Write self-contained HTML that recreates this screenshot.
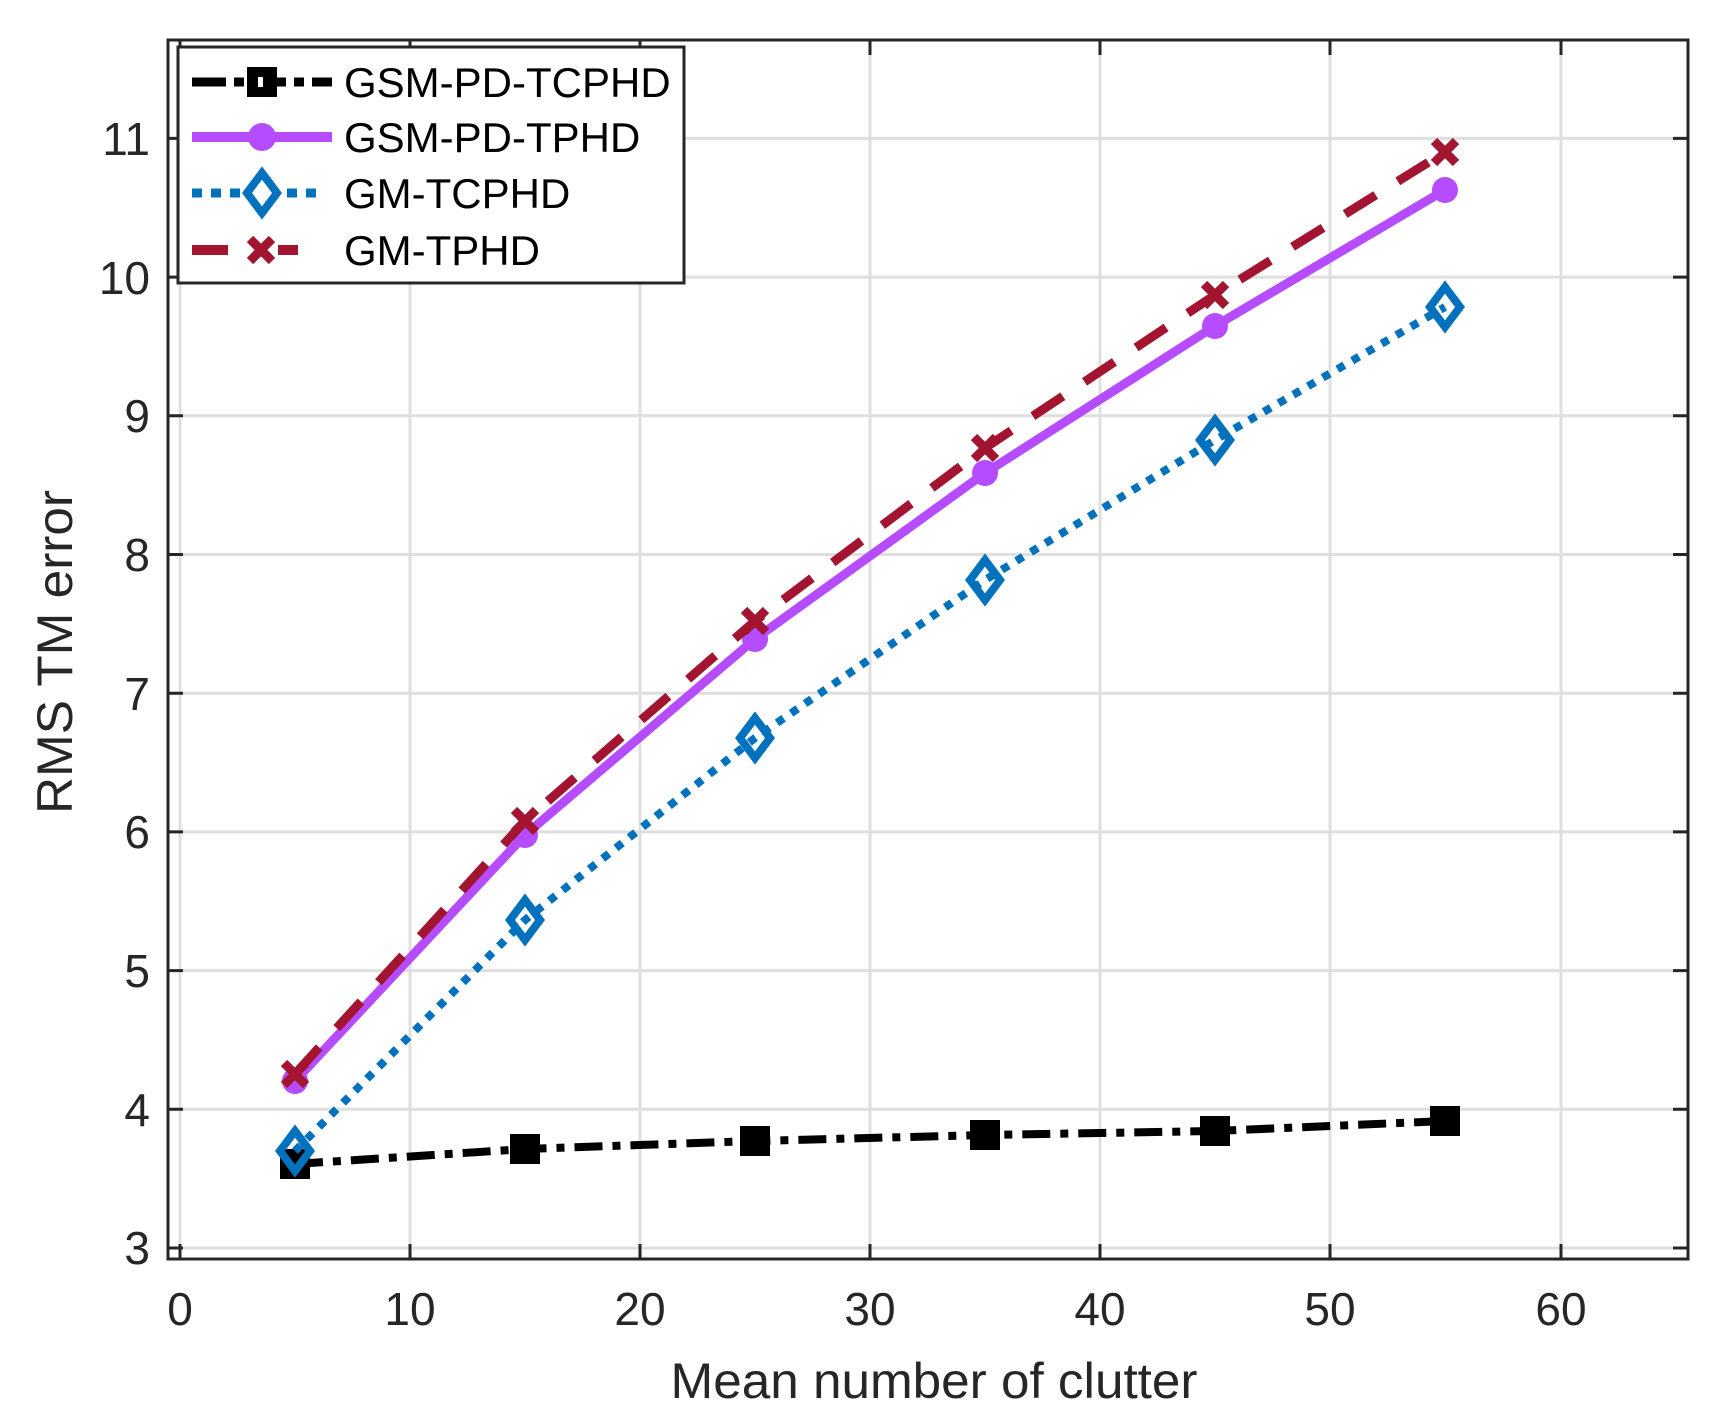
<!DOCTYPE html>
<html><head><meta charset="utf-8"><style>
html,body{margin:0;padding:0;background:#fff;}
svg{display:block;}
text{font-family:"Liberation Sans",Arial,sans-serif;fill:#262626;}
</style></head><body>
<svg width="1724" height="1421" viewBox="0 0 1724 1421" xmlns="http://www.w3.org/2000/svg">
<rect width="1724" height="1421" fill="#fff"/>
<g stroke="#dfdfdf" stroke-width="3">
<line x1="180" y1="40" x2="180" y2="1259"/><line x1="410" y1="40" x2="410" y2="1259"/><line x1="640" y1="40" x2="640" y2="1259"/><line x1="870" y1="40" x2="870" y2="1259"/><line x1="1100" y1="40" x2="1100" y2="1259"/><line x1="1330" y1="40" x2="1330" y2="1259"/><line x1="1561" y1="40" x2="1561" y2="1259"/>
<line x1="168" y1="1248" x2="1688" y2="1248"/><line x1="168" y1="1109.3" x2="1688" y2="1109.3"/><line x1="168" y1="970.6" x2="1688" y2="970.6"/><line x1="168" y1="831.9" x2="1688" y2="831.9"/><line x1="168" y1="693.2" x2="1688" y2="693.2"/><line x1="168" y1="554.5" x2="1688" y2="554.5"/><line x1="168" y1="415.8" x2="1688" y2="415.8"/><line x1="168" y1="277.1" x2="1688" y2="277.1"/><line x1="168" y1="138.4" x2="1688" y2="138.4"/>
</g>
<rect x="168" y="40" width="1520" height="1219" fill="none" stroke="#262626" stroke-width="3"/>
<g stroke="#262626" stroke-width="3">
<path d="M180 1259v-15M410 1259v-15M640 1259v-15M870 1259v-15M1100 1259v-15M1330 1259v-15M1561 1259v-15"/>
<path d="M180 40v15M410 40v15M640 40v15M870 40v15M1100 40v15M1330 40v15M1561 40v15"/>
<path d="M168 1248h15M168 1109.3h15M168 970.6h15M168 831.9h15M168 693.2h15M168 554.5h15M168 415.8h15M168 277.1h15M168 138.4h15"/>
<path d="M1688 1248h-15M1688 1109.3h-15M1688 970.6h-15M1688 831.9h-15M1688 693.2h-15M1688 554.5h-15M1688 415.8h-15M1688 277.1h-15M1688 138.4h-15"/>
</g>
<g font-size="46" text-anchor="middle">
<text x="180" y="1325">0</text><text x="410" y="1325">10</text><text x="640" y="1325">20</text><text x="870" y="1325">30</text><text x="1100" y="1325">40</text><text x="1330" y="1325">50</text><text x="1561" y="1325">60</text>
</g>
<g font-size="46" text-anchor="end">
<text x="150" y="1264">3</text><text x="150" y="1126">4</text><text x="150" y="987">5</text><text x="150" y="848">6</text><text x="150" y="710">7</text><text x="150" y="571">8</text><text x="150" y="432">9</text><text x="150" y="294">10</text><text x="150" y="155">11</text>
</g>
<text x="934" y="1398" font-size="50" text-anchor="middle" textLength="527" lengthAdjust="spacingAndGlyphs">Mean number of clutter</text>
<text transform="translate(72,652) rotate(-90)" font-size="50" text-anchor="middle" textLength="324" lengthAdjust="spacingAndGlyphs">RMS TM error</text>
<polyline fill="none" stroke="#000" stroke-width="8" stroke-dasharray="28,10,8,10" points="295,1164 525,1149 755,1141 985,1135 1215,1131 1445,1121"/>
<g fill="#000">
<rect x="280" y="1149" width="30" height="30"/><rect x="510" y="1134" width="30" height="30"/><rect x="740" y="1126" width="30" height="30"/><rect x="970" y="1120" width="30" height="30"/><rect x="1200" y="1116" width="30" height="30"/><rect x="1430" y="1106" width="30" height="30"/>
</g>
<polyline fill="none" stroke="#b54cff" stroke-width="9" points="295,1081 525,835 755,639 985,473 1215,326 1445,190"/>
<g fill="#b54cff">
<circle cx="295" cy="1081" r="13"/><circle cx="525" cy="835" r="13"/><circle cx="755" cy="639" r="13"/><circle cx="985" cy="473" r="13"/><circle cx="1215" cy="326" r="13"/><circle cx="1445" cy="190" r="13"/>
</g>
<polyline fill="none" stroke="#0072bd" stroke-width="8" stroke-dasharray="8,9" points="295,1151 525,920 755,738 985,580 1215,440 1445,307"/>
<g fill="none" stroke="#0072bd" stroke-width="8">
<path d="M295 1131 l15 20 l-15 20 l-15 -20z"/><path d="M525 900 l15 20 l-15 20 l-15 -20z"/><path d="M755 718 l15 20 l-15 20 l-15 -20z"/><path d="M985 560 l15 20 l-15 20 l-15 -20z"/><path d="M1215 420 l15 20 l-15 20 l-15 -20z"/><path d="M1445 287 l15 20 l-15 20 l-15 -20z"/>
</g>
<polyline fill="none" stroke="#a2142f" stroke-width="9" stroke-dasharray="36,26" points="295,1074 525,821 755,621 985,448 1215,295 1445,152"/>
<g stroke="#a2142f" stroke-width="9">
<path d="M284 1063l22 22M306 1063l-22 22"/><path d="M514 810l22 22M536 810l-22 22"/><path d="M744 610l22 22M766 610l-22 22"/><path d="M974 437l22 22M996 437l-22 22"/><path d="M1204 284l22 22M1226 284l-22 22"/><path d="M1434 141l22 22M1456 141l-22 22"/>
</g>
<rect x="178" y="47" width="506" height="236" fill="#fff" stroke="#262626" stroke-width="3"/>
<line x1="192" y1="82" x2="332" y2="82" stroke="#000" stroke-width="9" stroke-dasharray="34,8,10,8"/>
<rect x="247" y="67" width="30" height="30" fill="#000"/><rect x="258" y="77" width="5" height="10" fill="#fff"/>
<line x1="192" y1="137" x2="332" y2="137" stroke="#b54cff" stroke-width="10"/>
<circle cx="262" cy="137" r="14" fill="#b54cff"/>
<line x1="192" y1="193" x2="320" y2="193" stroke="#0072bd" stroke-width="9" stroke-dasharray="10,9"/>
<path d="M262 173 l15 20 l-15 20 l-15 -20z" fill="#fff" stroke="#0072bd" stroke-width="8"/>
<line x1="192" y1="250" x2="228" y2="250" stroke="#a2142f" stroke-width="10"/>
<line x1="278" y1="250" x2="298" y2="250" stroke="#a2142f" stroke-width="10"/>
<path d="M250 239l22 22M272 239l-22 22" stroke="#a2142f" stroke-width="9"/>
<g font-size="42">
<text x="344" y="97" style="fill:#000">GSM-PD-TCPHD</text>
<text x="344" y="152" style="fill:#000">GSM-PD-TPHD</text>
<text x="344" y="208" style="fill:#000">GM-TCPHD</text>
<text x="344" y="265" style="fill:#000">GM-TPHD</text>
</g>
</svg>
</body></html>
